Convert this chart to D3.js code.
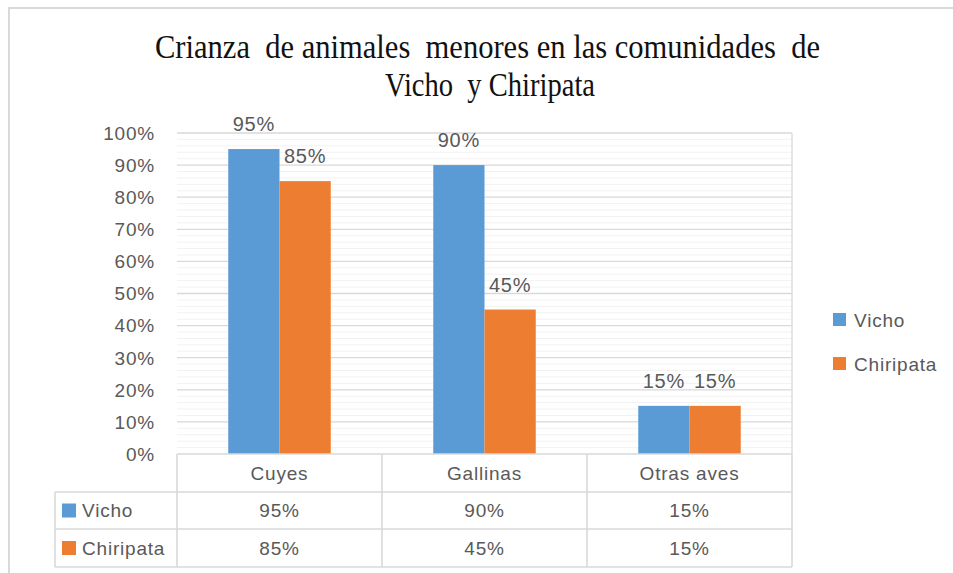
<!DOCTYPE html>
<html lang="es">
<head>
<meta charset="utf-8">
<script src="https://cdn.jsdelivr.net/npm/d3@7"></script>
<style>
  body { margin: 0; background: #fff; }
  text { font-family: "Liberation Sans", Arial, sans-serif; fill: #595959; letter-spacing: 0.8px; }
  .title { font-family: "Liberation Serif", "Times New Roman", serif; fill: #111; letter-spacing: 0; white-space: pre; }
</style>
</head>
<body>
<div id="chart"></div>
<script>
// data
var categories = ["Cuyes", "Gallinas", "Otras aves"];
var seriesNames = ["Vicho", "Chiripata"];
var vicho = [0.95, 0.90, 0.15];
var chiripata = [0.85, 0.45, 0.15];
var yTicks = [0, 0.1, 0.2, 0.3, 0.4, 0.5, 0.6, 0.7, 0.8, 0.9, 1.0];
var colors = ["#5B9BD5", "#ED7D31"];

var values = [vicho, chiripata];

var W = 953, H = 573;
var plot = {left: 177, right: 792, top: 133, bottom: 454};

var svg = d3.select("#chart").append("svg")
    .attr("width", W).attr("height", H);

// chart border
svg.append("path")
    .attr("d", "M9," + H + "V8H" + W)
    .attr("fill", "none").attr("stroke", "#D9D9D9").attr("stroke-width", 2);

// title
var title = svg.append("g");
title.append("text").attr("class", "title")
    .attr("x", 155).attr("y", 58)
    .attr("font-size", 33)
    .attr("textLength", 665).attr("lengthAdjust", "spacingAndGlyphs")
    .text("Crianza  de animales  menores en las comunidades  de");
title.append("text").attr("class", "title")
    .attr("x", 385).attr("y", 96)
    .attr("font-size", 33)
    .attr("textLength", 210).attr("lengthAdjust", "spacingAndGlyphs")
    .text("Vicho  y Chiripata");

var x = d3.scaleBand().domain(categories)
    .range([plot.left, plot.right])
    .paddingInner(0.5).paddingOuter(0.25);
var step = x.step();
var xs = d3.scaleBand().domain(seriesNames).range([0, x.bandwidth()]);
var y = d3.scaleLinear().domain([0, 1]).range([plot.bottom, plot.top]);

// minor gridlines every 2%
var minor = d3.range(0, 51).map(function(i) { return i / 50; })
    .filter(function(v) { return Math.round(v * 50) % 5 !== 0; });
svg.append("g").selectAll("line").data(minor).enter().append("line")
    .attr("x1", plot.left).attr("x2", plot.right)
    .attr("y1", function(d) { return y(d); }).attr("y2", function(d) { return y(d); })
    .attr("stroke", "#F2F2F2").attr("stroke-width", 1);

// major gridlines
svg.append("g").selectAll("line").data(yTicks.slice(1)).enter().append("line")
    .attr("x1", plot.left).attr("x2", plot.right)
    .attr("y1", function(d) { return y(d); }).attr("y2", function(d) { return y(d); })
    .attr("stroke", "#D9D9D9").attr("stroke-width", 1.3);

svg.append("line")
    .attr("x1", plot.right).attr("x2", plot.right)
    .attr("y1", plot.top).attr("y2", plot.bottom)
    .attr("stroke", "#D9D9D9").attr("stroke-width", 1.3);

// y axis labels
svg.append("g").selectAll("text").data(yTicks).enter().append("text")
    .attr("x", 155).attr("y", function(d) { return y(d); })
    .attr("dy", "0.36em")
    .attr("text-anchor", "end")
    .attr("font-size", 19)
    .text(function(d) { return d3.format(".0%")(d); });

// bars
var groups = svg.append("g").selectAll("g").data(seriesNames).enter().append("g")
    .attr("fill", function(d, i) { return colors[i]; });

groups.each(function(s, si) {
  var g = d3.select(this);
  g.selectAll("rect").data(values[si]).enter().append("rect")
      .attr("x", function(d, i) { return x(categories[i]) + xs(s); })
      .attr("width", xs.bandwidth())
      .attr("y", function(d) { return y(d); })
      .attr("height", function(d) { return y(0) - y(d); });
  g.selectAll("text").data(values[si]).enter().append("text")
      .attr("x", function(d, i) { return x(categories[i]) + xs(s) + xs.bandwidth() / 2; })
      .attr("y", function(d) { return y(d) - 18; })
      .attr("text-anchor", "middle")
      .attr("font-size", 20)
      .text(function(d) { return d3.format(".0%")(d); });
});

// data table
var rowH = [454, 492, 529, 567];
var tableLeft = 55;
var line = function(x1, y1, x2, y2) {
  svg.append("line").attr("x1", x1).attr("y1", y1).attr("x2", x2).attr("y2", y2)
      .attr("stroke", "#D9D9D9").attr("stroke-width", 1.6);
};
line(plot.left, rowH[0], plot.right, rowH[0]);
line(tableLeft, rowH[1], plot.right, rowH[1]);
line(tableLeft, rowH[2], plot.right, rowH[2]);
line(tableLeft, rowH[3], plot.right, rowH[3]);
line(tableLeft, rowH[1], tableLeft, rowH[3]);
line(plot.left, rowH[0], plot.left, rowH[3]);
categories.forEach(function(c) {
  line(x(c) - step * 0.25 + step, rowH[0], x(c) - step * 0.25 + step, rowH[3]);
});

svg.append("g").selectAll("text").data(categories).enter().append("text")
    .attr("x", function(d) { return x(d) + x.bandwidth() / 2; })
    .attr("y", (rowH[0] + rowH[1]) / 2).attr("dy", "0.36em")
    .attr("text-anchor", "middle").attr("font-size", 19)
    .text(function(d) { return d; });

seriesNames.forEach(function(s, si) {
  var cy = (rowH[si + 1] + rowH[si + 2]) / 2;
  svg.append("rect").attr("x", 62).attr("y", cy - 7).attr("width", 14).attr("height", 14)
      .attr("fill", colors[si]);
  svg.append("text").attr("x", 82).attr("y", cy).attr("dy", "0.36em")
      .attr("font-size", 19).text(s);
  svg.append("g").selectAll("text").data(values[si]).enter().append("text")
      .attr("x", function(d, i) { return x(categories[i]) + x.bandwidth() / 2; })
      .attr("y", cy).attr("dy", "0.36em")
      .attr("text-anchor", "middle").attr("font-size", 19)
      .text(function(d) { return d3.format(".0%")(d); });
});

// legend
var legendY = [320, 364];
seriesNames.forEach(function(s, si) {
  svg.append("rect").attr("x", 833).attr("y", legendY[si] - 7).attr("width", 13).attr("height", 13)
      .attr("fill", colors[si]);
  svg.append("text").attr("x", 854).attr("y", legendY[si]).attr("dy", "0.36em")
      .attr("font-size", 19).text(s);
});
</script>
</body>
</html>
